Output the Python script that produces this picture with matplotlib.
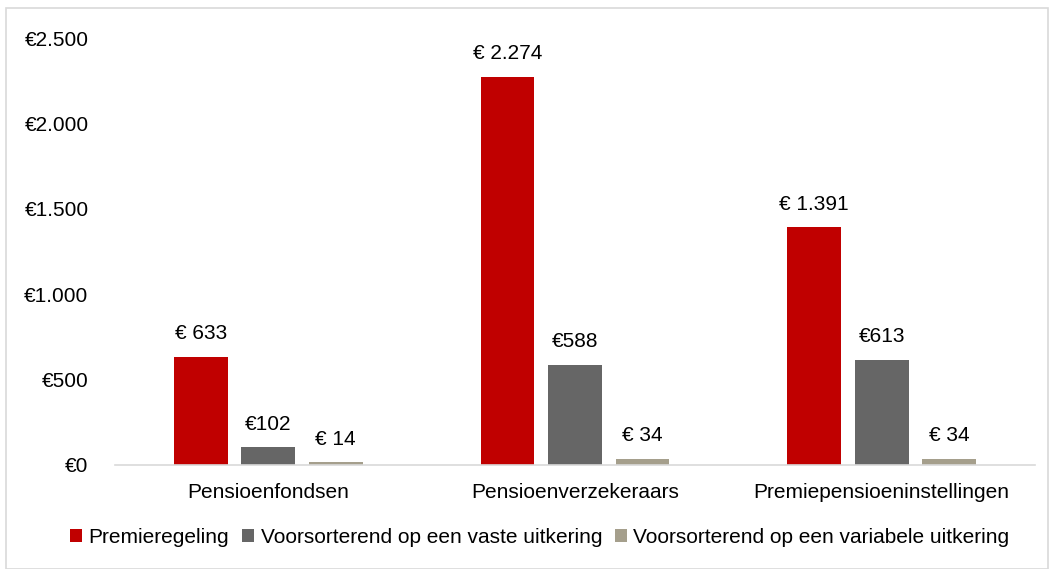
import numpy as np
import matplotlib.pyplot as plt
from matplotlib.patches import Rectangle

plt.rcParams['font.family'] = ['Liberation Sans', 'DejaVu Sans']

categories = ['Pensioenfondsen', 'Pensioenverzekeraars', 'Premiepensioeninstellingen']
series = ['Premieregeling', 'Voorsorterend op een vaste uitkering',
          'Voorsorterend op een variabele uitkering']
premie = [633, 2274, 1391]
vast = [102, 588, 613]
variabel = [14, 34, 34]
labels_premie = ['€ 633', '€ 2.274', '€ 1.391']
labels_vast = ['€102', '€588', '€613']
labels_variabel = ['€ 14', '€ 34', '€ 34']
yticks = [0, 500, 1000, 1500, 2000, 2500]
ytick_labels = ['€0', '€500', '€1.000', '€1.500', '€2.000', '€2.500']

colors = ['#C00000', '#666666', '#A59F8C']
fs = 15

fig = plt.figure(figsize=(10.54, 5.69), dpi=100)
ax = fig.add_axes([0.109, 0.183, 0.873, 0.750])

x = np.arange(len(categories))
w = 0.175
off = 0.22
data = [premie, vast, variabel]
labs = [labels_premie, labels_vast, labels_variabel]
for i in range(3):
    bars = ax.bar(x + (i - 1) * off, data[i], w, color=colors[i], label=series[i])
    for b, t in zip(bars, labs[i]):
        ax.annotate(t, (b.get_x() + b.get_width() / 2, b.get_height()),
                    xytext=(0, 10), textcoords='offset points',
                    ha='center', va='bottom', fontsize=fs, color='#000000')

ax.set_xlim(-0.5, 2.5)
ax.set_ylim(0, 2500)
ax.set_yticks(yticks)
ax.set_yticklabels(ytick_labels)
ax.set_xticks(x)
ax.set_xticklabels(categories)
ax.tick_params(axis='both', length=0, labelsize=fs, colors='#000000')
ax.tick_params(axis='y', pad=19)
ax.tick_params(axis='x', pad=13)
for s in ['top', 'right', 'left']:
    ax.spines[s].set_visible(False)
ax.spines['bottom'].set_color('#D9D9D9')
ax.spines['bottom'].set_linewidth(1.2)

fig.legend(loc='center', bbox_to_anchor=(0.512, 0.055), ncol=3, frameon=False,
           fontsize=fs, handlelength=0.6, handleheight=0.6, handletextpad=0.3,
           columnspacing=0.6)

fig.patches.append(Rectangle((0.006, 0.0), 0.988, 0.986, transform=fig.transFigure,
                             fill=False, edgecolor='#D9D9D9', linewidth=1.2))

fig.savefig('out.png', dpi=100)
